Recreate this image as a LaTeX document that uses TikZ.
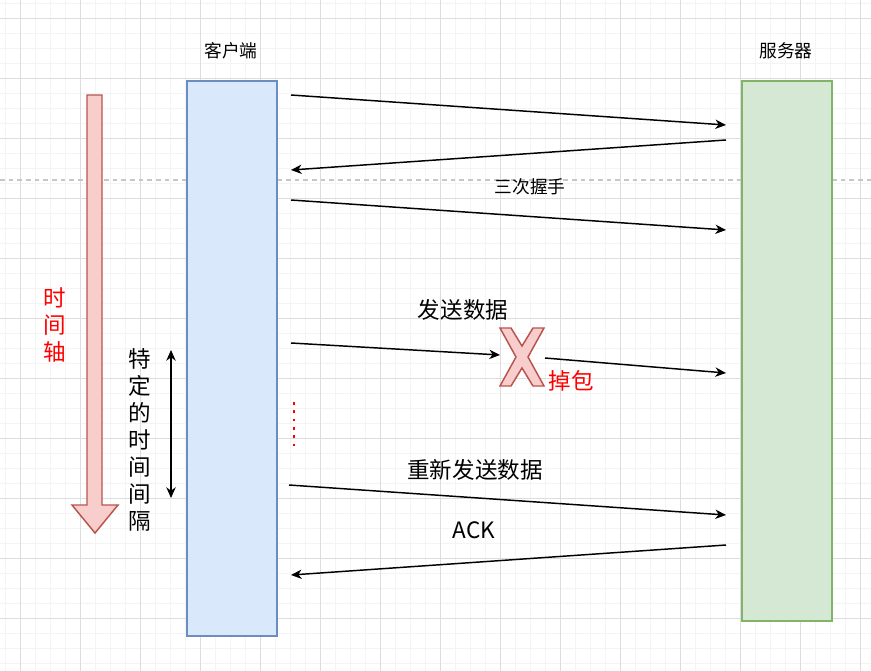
\documentclass[tikz,border=0pt]{standalone}
\usepackage{fontspec}
\setmainfont{Noto Sans CJK SC}
\usetikzlibrary{arrows.meta}
\definecolor{cfill}{HTML}{DAE8FC}
\definecolor{cline}{HTML}{6C8EBF}
\definecolor{sfill}{HTML}{D5E8D4}
\definecolor{sline}{HTML}{82B366}
\definecolor{rfill}{HTML}{F8CECC}
\definecolor{rline}{HTML}{B85450}
\definecolor{gmajor}{HTML}{DDDDDD}
\definecolor{gminor}{HTML}{F4F4F4}
\tikzset{
  lbl/.style={inner sep=0pt, font=\fontsize{13.3}{16}\selectfont},
  biglbl/.style={inner sep=0pt, font=\fontsize{16.9}{20.3}\selectfont},
  msg/.style={line width=1.1pt, -{Stealth[length=8pt,width=7pt,inset=2.5pt]}},
  lane/.style={line width=1.6pt, inner sep=0pt, anchor=north west},
}
\begin{document}
\begin{tikzpicture}[x=0.75pt,y=-0.75pt]
\useasboundingbox (0,0) rectangle (871,671);
\fill[white] (0,0) rectangle (871,671);
% grid
\foreach \x in {5,20,...,871} \draw[gminor, line width=0.75pt] (\x,0) -- (\x,671);
\foreach \y in {3,18,...,671} \draw[gminor, line width=0.75pt] (0,\y) -- (871,\y);
\foreach \x in {20,80,...,871} \draw[gmajor, line width=0.75pt] (\x,0) -- (\x,671);
\foreach \y in {18,78,...,671} \draw[gmajor, line width=0.75pt] (0,\y) -- (871,\y);
% dashed separator
\draw[black!22, line width=0.9pt, dash pattern=on 3.5pt off 3pt] (0,180) -- (871,180);

% lanes
\node[lane, draw=cline, fill=cfill, minimum width=67.5pt, minimum height=416.25pt] (client) at (186,80) {};
\node[lane, draw=sline, fill=sfill, minimum width=67.5pt, minimum height=405pt] (server) at (741,80) {};
\node[lbl] (clientlbl) at (231,51) {客户端};
\node[lbl] (serverlbl) at (786,51) {服务器};

% time arrow
\draw[rline, fill=rfill, line width=1.1pt] (87,95) -- (102,95) -- (102,505) -- (118,505) -- (95,533) -- (72,505) -- (87,505) -- cycle;
\node[biglbl, text=red, align=center] (timelbl) at (55,325) {时\\间\\轴};

% interval
\coordinate (intop) at (171,350);
\coordinate (inbot) at (171,498);
\draw[line width=1.1pt, {Stealth[length=8pt,width=7pt,inset=2.5pt]}-{Stealth[length=8pt,width=7pt,inset=2.5pt]}] (intop) -- (inbot);
\node[biglbl, align=center] (intlbl) at (140,440) {特\\定\\的\\时\\间\\间\\隔};

% handshake
\coordinate (a1) at (291,95);  \coordinate (b1) at (726,125);
\coordinate (b2) at (726,140); \coordinate (a2) at (291,170);
\coordinate (a3) at (291,200); \coordinate (b3) at (726,230);
\draw[msg] (a1) -- (b1);
\draw[msg] (b2) -- (a2);
\draw[msg] (a3) -- (b3);
\node[lbl] (hs) at (530,187) {三次握手};

% send data with loss
\node[biglbl] (sendlbl) at (463,310) {发送数据};
\coordinate (a4) at (291,343);
\coordinate (xin) at (500,355);
\draw[rline, fill=rfill, line width=1.1pt]
  (500,328) -- (511,328) -- (522,346) -- (533,328) -- (544,328) -- (528,357)
  -- (544,386) -- (533,386) -- (522,368) -- (511,386) -- (500,386) -- (516,357) -- cycle;
\coordinate (xout) at (545,358);
\coordinate (b4) at (726,373);
\draw[msg] (a4) -- (xin);
\draw[msg] (xout) -- (b4);
\node[biglbl, text=red] (loss) at (571,381) {掉包};

% dots
\coordinate (d1) at (294,402);
\coordinate (d2) at (294,447);
\draw[red, line width=2pt, dash pattern=on 2pt off 4.25pt] (d1) -- (d2);

% resend
\node[biglbl] (resend) at (475,470) {重新发送数据};
\coordinate (a5) at (289,485); \coordinate (b5) at (726,515);
\draw[msg] (a5) -- (b5);
\node[biglbl] (ack) at (474,530) {ACK};
\coordinate (b6) at (726,545); \coordinate (a6) at (291,575);
\draw[msg] (b6) -- (a6);
\end{tikzpicture}
\end{document}
